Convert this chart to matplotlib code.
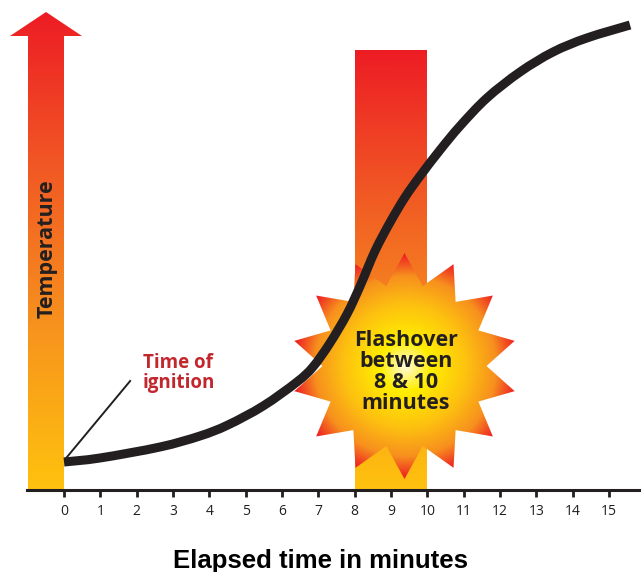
# Temperature vs time: flashover chart
import numpy as np
import matplotlib.pyplot as plt
from matplotlib.colors import LinearSegmentedColormap
from matplotlib.patches import Polygon, PathPatch
from matplotlib.path import Path

# curve (minutes, temperature in arbitrary units)
minutes = [0, 0.99, 2.64, 3.74, 4.51, 5.48, 6.41, 6.85, 7.32, 7.79, 8.15,
           8.56, 8.98, 9.39, 9.80, 10.35, 10.90, 11.64, 12.55, 13.46,
           14.39, 15.58]
temperature = [28, 32, 43, 54, 65, 84, 108, 123, 147, 176, 204,
               239, 268, 293, 314, 340, 364, 392, 418, 438,
               452, 465]
ticks = list(range(0, 16))
flash_start, flash_end = 8, 10
flash_top = 440
arrow_top = 478

dark = '#231F20'
px_per_min = 36.333  # horizontal scale, used to keep shapes round

fire = LinearSegmentedColormap.from_list(
    'fire', ['#FFC20E', '#F7941D', '#F15A24', '#ED1C24'])
burst = LinearSegmentedColormap.from_list(
    'burst', [(0, '#FFFBE0'), (0.22, '#FFEE00'), (0.55, '#FDC010'),
              (0.8, '#F7901E'), (1.0, '#ED1C24')])

fig = plt.figure(figsize=(6.41, 5.72), dpi=100)
ax = fig.add_axes([0, 82 / 572, 1, 490 / 572])
ax.set_xlim(-64 / px_per_min, 577 / px_per_min)
ax.set_ylim(0, 490)


def vertical_fill(poly_xy, y0, y1):
    poly = Polygon(poly_xy, closed=True, facecolor='none', edgecolor='none')
    ax.add_patch(poly)
    xs = [p[0] for p in poly_xy]
    grad = np.linspace(0, 1, 256).reshape(-1, 1)
    im = ax.imshow(grad, cmap=fire, origin='lower', aspect='auto',
                   extent=[min(xs), max(xs), y0, y1], zorder=1)
    im.set_clip_path(poly)


# y axis arrow
sx0, sx1 = -36 / px_per_min, 0
hx0, hx1 = -54 / px_per_min, 18 / px_per_min
head_base = 454
arrow = [(sx0, 0), (sx1, 0), (sx1, head_base), (hx1, head_base),
         ((hx0 + hx1) / 2, arrow_top), (hx0, head_base), (sx0, head_base)]
vertical_fill(arrow, 0, arrow_top)

# flashover band
band = [(flash_start, 0), (flash_end, 0), (flash_end, flash_top),
        (flash_start, flash_top)]
vertical_fill(band, 0, flash_top)

# star burst
cx, cy = 340.5 / px_per_min, 124
n = 14
r_out, r_in = 113, 82
ang = np.pi / 2 + np.arange(2 * n) * np.pi / n
rad = np.where(np.arange(2 * n) % 2 == 0, r_out, r_in)
star_xy = np.column_stack([cx + rad * np.cos(ang) / px_per_min,
                           cy + rad * np.sin(ang)])
star = Polygon(star_xy, closed=True, facecolor='none', edgecolor='none')
ax.add_patch(star)
g = np.linspace(-r_out, r_out, 300)
GX, GY = np.meshgrid(g, g)
R = np.clip(np.hypot(GX, GY) / r_out, 0, 1)
im = ax.imshow(R, cmap=burst, origin='lower', aspect='auto', vmin=0, vmax=1,
               extent=[cx - r_out / px_per_min, cx + r_out / px_per_min,
                       cy - r_out, cy + r_out], zorder=2)
im.set_clip_path(star)

# temperature curve, smooth bezier through the read points
P = np.column_stack([np.array(minutes) * px_per_min, temperature])
verts = [P[0]]
codes = [Path.MOVETO]
for i in range(len(P) - 1):
    p0 = P[max(i - 1, 0)]
    p1, p2 = P[i], P[i + 1]
    p3 = P[min(i + 2, len(P) - 1)]
    verts += [p1 + (p2 - p0) / 6, p2 - (p3 - p1) / 6, p2]
    codes += [Path.CURVE4] * 3
verts = np.array(verts)
verts[:, 0] /= px_per_min
ax.add_patch(PathPatch(Path(verts, codes), facecolor='none', edgecolor=dark,
                       lw=6.5, capstyle='butt', joinstyle='round', zorder=4))

# leader for time of ignition
ax.plot([0.06, 1.82], [32, 109], color=dark, lw=1.4, zorder=4)
ax.text(2.17, 117, 'Time of\nignition', color='#C1272D', fontsize=13.5,
        fontweight='bold', family='Open Sans', ha='left', va='center',
        linespacing=0.95, zorder=5)

ax.text(cx + 0.03, 118, 'Flashover\nbetween\n8 & 10\nminutes', color=dark,
        fontsize=15.5, fontweight='bold', family='Open Sans', ha='center',
        va='center', linespacing=0.98, zorder=5)

ax.text(-17 / px_per_min, 241, 'Temperature', rotation=90, color=dark,
        fontsize=15.5, fontweight='bold', family='Open Sans', ha='center',
        va='center', zorder=5)

# axis
for s in ['top', 'right', 'left']:
    ax.spines[s].set_visible(False)
ax.spines['bottom'].set_color(dark)
ax.spines['bottom'].set_linewidth(2.2)
ax.spines['bottom'].set_zorder(6)
ax.spines['bottom'].set_bounds(-37 / px_per_min, 577 / px_per_min)
ax.set_xticks(ticks)
ax.set_xticklabels([str(t) for t in ticks], family='Open Sans', fontsize=10,
                   color=dark)
ax.tick_params(axis='x', length=5, width=2, color=dark, pad=5)
ax.set_yticks([])

fig.text(0.5, 4 / 572, 'Elapsed time in minutes', ha='center', va='baseline',
         fontsize=18.5, fontweight='bold', family='Liberation Sans',
         color='black')

fig.savefig('out.png', dpi=100)
